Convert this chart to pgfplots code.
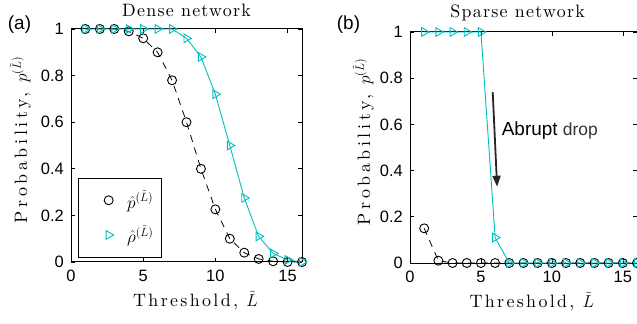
\documentclass[border=0pt]{standalone}
\usepackage{pgfplots}
\pgfplotsset{compat=1.18}
\usepackage{fontspec}
\usetikzlibrary{arrows.meta}
\newfontfamily\helv{Liberation Sans}
\newfontfamily\lmt{lmroman10-regular.otf}[LetterSpace=7]
\newfontfamily\lmx{lmroman10-regular.otf}[LetterSpace=13]
\newfontfamily\lmy{lmroman10-regular.otf}[LetterSpace=20]
\definecolor{mcyan}{RGB}{0,190,190}
\newcommand{\tickfont}{\helv\fontsize{16.5}{16.5}\selectfont}
\begin{document}
\begin{tikzpicture}
\pgfplotsset{
  panel/.style={
    scale only axis, anchor=south west, clip=false,
    xmin=0, xmax=16, ymin=0, ymax=1,
    xtick={0,5,10,15}, xticklabels={0,5,10,15},
    ytick={0,0.2,0.4,0.6,0.8,1}, yticklabels={0,0.2,0.4,0.6,0.8,1},
    tick align=inside, major tick length=4bp,
    axis line style={line width=1bp, black},
    every tick/.style={line width=0.6bp, black},
    ticklabel style={font=\tickfont},
    xticklabel style={inner sep=0pt, anchor=north, yshift=-8bp},
    yticklabel style={inner sep=0pt, anchor=east, xshift=-7bp},
    ylabel={\lmy\fontsize{18}{19}\selectfont Probability, $p^{(\tilde{L})}$},
    xlabel={\lmx\fontsize{18}{19}\selectfont Threshold, $\tilde{L}$},
  },
  pline/.style={black, line width=0.8bp, dash pattern=on 7bp off 6bp,
    mark=o, mark size=4.5bp, mark options={solid, line width=0.9bp}},
  rline/.style={mcyan, line width=0.9bp,
    mark=triangle, mark size=5bp, mark options={solid, rotate=-90, line width=0.9bp}},
}
% ---------- panel (a)
\begin{axis}[panel, at={(71bp,62bp)}, width=231bp, height=233bp,
  title={\lmt\fontsize{18}{19}\selectfont Dense network},
  title style={at={(axis description cs:0.5,1.027)}, anchor=base, inner sep=0pt},
  xlabel style={at={(axis description cs:0.539,-0.191)}, anchor=base, inner sep=0pt},
  ylabel style={at={(axis description cs:-0.19,0.524)}, anchor=base, inner sep=0pt},
  legend style={at={(rel axis cs:0.03,0.021)}, anchor=south west,
    draw=black, line width=0.6bp, inner xsep=6bp, inner ysep=10.5bp,
    row sep=12bp, font=\fontsize{17}{17}\selectfont, cells={anchor=west}},
  legend image code/.code={\path (-24bp,0) (16bp,0); \draw[#1, only marks] plot coordinates {(0bp,0bp)};},
]
\addplot[pline] coordinates {
(1,1) (2,1) (3,1) (4,0.99) (5,0.96) (6,0.9) (7,0.78) (8,0.6) (9,0.4)
(10,0.226) (11,0.1) (12,0.04) (13,0.013) (14,0.003) (15,0) (16,0)};
\addlegendentry{$\hat{p}^{(\tilde{L})}$}
\addplot[rline] coordinates {
(1,1) (2,1) (3,1) (4,1) (5,1) (6,1) (7,1) (8,0.96) (9,0.88) (10,0.72)
(11,0.5) (12,0.275) (13,0.11) (14,0.037) (15,0.009) (16,0)};
\addlegendentry{$\hat{\rho}^{(\tilde{L})}$}
\end{axis}
% ---------- panel (b)
\begin{axis}[panel, at={(410bp,61bp)}, width=227bp, height=231bp,
  title={\lmt\fontsize{18}{19}\selectfont Sparse network},
  title style={at={(axis description cs:0.474,1.038)}, anchor=base, inner sep=0pt},
  xlabel style={at={(axis description cs:0.537,-0.193)}, anchor=base, inner sep=0pt},
  ylabel style={at={(axis description cs:-0.176,0.524)}, anchor=base, inner sep=0pt},
]
\addplot[pline] coordinates {
(1,0.15) (2,0.01) (3,0) (4,0) (5,0) (6,0) (7,0) (8,0) (9,0) (10,0)
(11,0) (12,0) (13,0) (14,0) (15,0) (16,0)};
\addplot[rline] coordinates {
(1,1) (2,1) (3,1) (4,1) (5,1) (6,0.11) (7,0) (8,0) (9,0) (10,0)
(11,0) (12,0) (13,0) (14,0) (15,0) (16,0)};
\draw[line width=1.8bp, black!85, -{Triangle[length=11bp,width=8bp]}]
  (axis cs:5.83,0.74) -- (axis cs:6.14,0.33);
\node[anchor=base west, inner sep=0pt] at (axis cs:6.46,0.55)
  {\helv\fontsize{19}{19}\selectfont Abrupt {\fontsize{17.5}{17.5}\selectfont\color{black!80}drop}};
\end{axis}
\node[font=\helv\fontsize{19}{19}\selectfont, inner sep=0pt] at (19.5bp,299bp) {(a)};
\node[font=\helv\fontsize{19}{19}\selectfont, inner sep=0pt] at (348.5bp,299bp) {(b)};
\pgfresetboundingbox
\path (0bp,0bp) rectangle (637bp,324bp);
\end{tikzpicture}
\end{document}
